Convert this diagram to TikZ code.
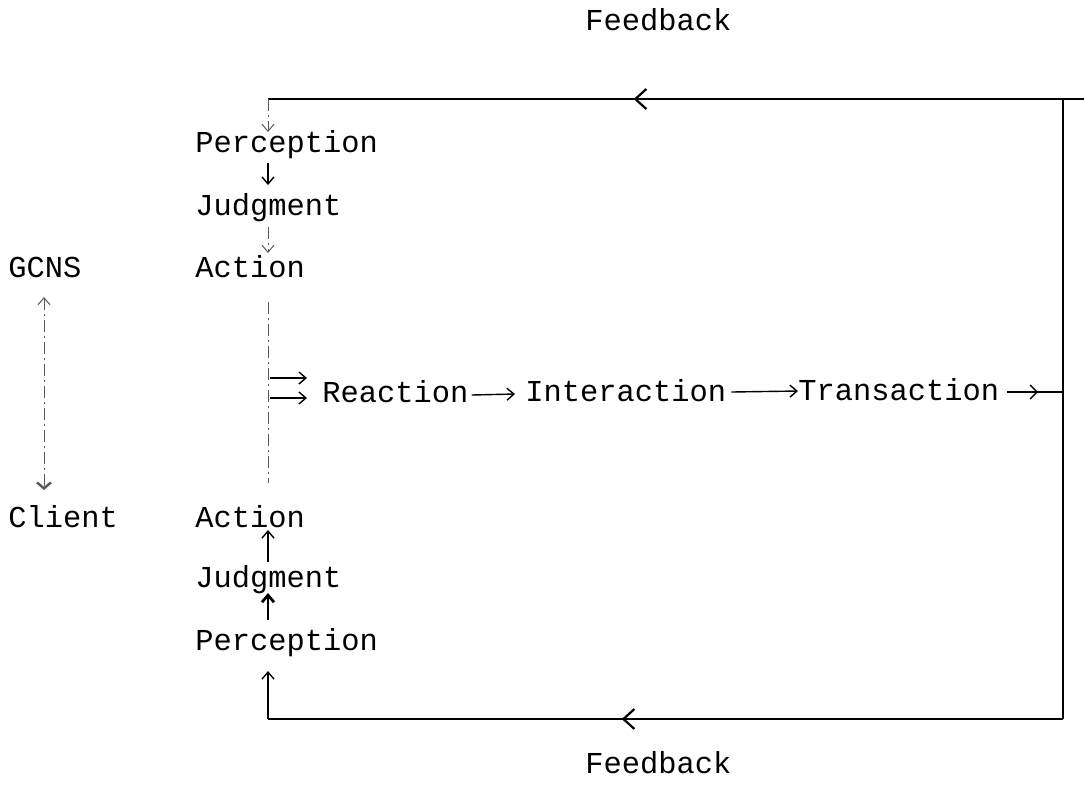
\documentclass[tikz,border=0pt]{standalone}
\usepackage{fontspec}
\setmonofont{Liberation Mono}
\usetikzlibrary{arrows.meta,decorations.markings,calc}
\tikzset{
  lbl/.style={font=\ttfamily\fontsize{15.2}{18}\selectfont, inner sep=0pt, anchor=base west},
  arr/.style={line width=0.7pt, -{Straight Barb[length=3.5pt,width=6pt]}},
  faint/.style={line width=0.5pt, dash pattern=on 6pt off 2pt on 1pt off 2pt, black!65},
  fb/.style={line width=1.1pt},
  midleft/.style={postaction={decorate}, decoration={markings, mark=at position #1 with {\arrow{Straight Barb[length=5.5pt,width=10pt,line width=1.1pt]}}}},
  midsmall/.style={postaction={decorate}, decoration={markings, mark=at position #1 with {\arrow{Straight Barb[length=3.5pt,width=7pt,line width=0.7pt]}}}}
}
\begin{document}
\begin{tikzpicture}[x=0.5pt,y=-0.5pt]
\useasboundingbox (0,0) rectangle (1084,784);
\coordinate (ax) at (268,0);
\coordinate (gx) at (44,0);
% labels
\node[lbl] (fbtop) at (585,30) {Feedback};
\node[lbl] (fbbot) at (585,773) {Feedback};
\node[lbl] (p1) at (195,152) {Perception};
\node[lbl] (j1) at (195,215) {Judgment};
\node[lbl] (a1) at (195,277) {Action};
\node[lbl] (gcns) at (8,277) {GCNS};
\node[lbl] (client) at (8,527) {Client};
\node[lbl] (a2) at (195,527) {Action};
\node[lbl] (j2) at (195,587) {Judgment};
\node[lbl] (p2) at (195,650) {Perception};
\node[lbl] (re) at (322,402) {Reaction};
\node[lbl] (in) at (525,401) {Interaction};
\node[lbl] (tr) at (798,400) {Transaction};
% loop coordinates
\coordinate (ltop) at (268,99);
\coordinate (rtop) at (1063,99);
\coordinate (etop) at (1084,99);
\coordinate (rmid) at (1063,392);
\coordinate (rbot) at (1063,719);
\coordinate (lbot) at (268,719);
\coordinate (d1) at (270,378);
\coordinate (d2) at (270,398);
% feedback loop
\draw[fb] (rmid) -- (rtop);
\draw[fb] (rtop) -- (etop);
\draw[fb, midleft=0.54] (rtop) -- (ltop);
\draw[fb] (rmid) -- (rbot);
\draw[fb, midleft=0.555] (rbot) -- (lbot);
\draw[arr, faint] (ltop) -- ($(p1.base -| ax)+(0,-20)$);
\draw[arr] (lbot) -- ($(p2.base -| ax)+(0,21)$);
% vertical chains
\draw[arr] ($(p1.base -| ax)+(0,11)$) -- ($(j1.base -| ax)+(0,-30)$);
\draw[arr, faint] ($(j1.base -| ax)+(0,12)$) -- ($(a1.base -| ax)+(0,-24)$);
\draw[arr] ($(j2.base -| ax)+(0,-25)$) -- ($(a2.base -| ax)+(0,3)$);
\draw[line width=1pt, -{Straight Barb[length=3.5pt,width=6pt,line width=1.4pt]}] ($(p2.base -| ax)+(0,-30)$) -- ($(j2.base -| ax)+(0,6)$);
\draw[faint] ($(a1.base -| ax)+(0,25)$) -- ($(a2.base -| ax)+(0,-44)$);
% GCNS <-> Client
\draw[faint, {Straight Barb[length=3.5pt,width=6pt]}-{Straight Barb[length=3pt,width=7pt,line width=1.2pt]}] ($(gcns.base -| gx)+(0,20)$) -- ($(client.base -| gx)+(0,-37)$);
% middle row
\draw[arr] (d1) -- ($(re.base west)+(-15,-24)$);
\draw[arr] (d2) -- ($(re.base west)+(-15,-4)$);
\draw[arr] ($(re.base east)+(3,-7)$) -- ($(in.base west)+(-10,-7)$);
\draw[arr] ($(in.base east)+(5,-9)$) -- ($(tr.base west)+(0,-9)$);
\draw[line width=0.7pt, midsmall=0.55] ($(tr.base east)+(8,-8)$) -- (rmid);
\end{tikzpicture}
\end{document}
